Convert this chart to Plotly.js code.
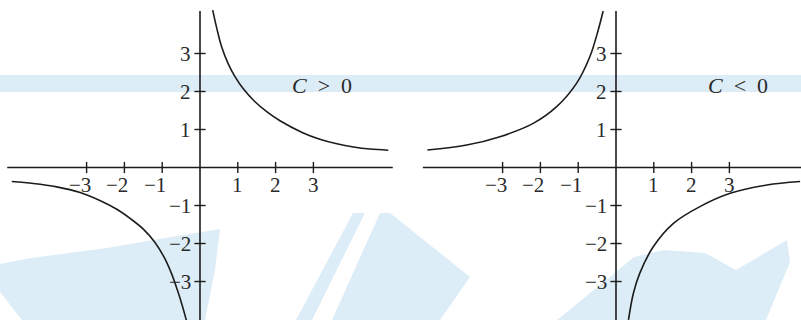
<!DOCTYPE html>
<html>
<head>
<meta charset="utf-8">
<script src="https://cdn.plot.ly/plotly-3.0.1.min.js"></script>
<style>html,body{margin:0;padding:0;background:#fff;}#chart{width:801px;height:320px;}</style>
</head>
<body>
<div id="chart"></div>
<script>
// ---- data ----
const xTicks = [-3, -2, -1, 1, 2, 3];
const yTicks = [-3, -2, -1, 1, 2, 3];
const tickLabels = ['\u22123', '\u22122', '\u22121', '1', '2', '3'];

// left panel, C > 0
const posUpperX = [0.336, 0.44, 0.574, 0.75, 0.926, 1.145, 1.455, 1.765, 2.116, 2.73, 3.17, 3.62, 4.06, 4.50, 4.98];
const posUpperY = [4.14, 3.68, 3.17, 2.72, 2.39, 2.07, 1.73, 1.47, 1.23, 0.91, 0.745, 0.625, 0.54, 0.485, 0.455];
const posLowerX = [-4.98, -4.41, -3.79, -3.17, -2.65, -2.20, -1.85, -1.50, -1.20, -0.95, -0.75, -0.60, -0.48, -0.38, -0.34];
const posLowerY = [-0.37, -0.42, -0.51, -0.66, -0.87, -1.10, -1.34, -1.62, -1.96, -2.36, -2.80, -3.22, -3.60, -3.95, -4.1];

// right panel, C < 0
const negUpperX = [-4.99, -3.95, -3.07, -2.19, -1.57, -1.04, -0.69, -0.47, -0.34];
const negUpperY = [0.46, 0.59, 0.81, 1.16, 1.60, 2.22, 2.92, 3.62, 4.12];
const negLowerX = [0.33, 0.46, 0.63, 0.99, 1.52, 2.22, 3.02, 3.99, 4.87];
const negLowerY = [-4.01, -3.31, -2.78, -2.08, -1.47, -1.03, -0.68, -0.46, -0.37];

const panelLabels = ['<i>C</i>\u2002>\u20020', '<i>C</i>\u2002&lt;\u20020'];
const labelPos = [3.22, 2.15];

// axis extents (in data units)
const leftAxisX = [-5.1, 5.1];
const rightAxisX = [-5.11, 5.0];
const axisY = [-4.2, 4.12];

// ---- styling ----
const ink = '#1c1c1c';
const txt = '#2a2a2a';
const fam = '"Liberation Serif", "Times New Roman", serif';
const tickFont = {family: fam, size: 21, color: txt};
const labelFont = {family: fam, size: 22, color: txt};
const wm = '#ddedf7';

function panel(xa, ya, axX, curves) {
  const tr = [];
  tr.push({x: axX, y: [0, 0], xaxis: xa, yaxis: ya, mode: 'lines', line: {color: ink, width: 1.6}, hoverinfo: 'skip'});
  tr.push({x: [0, 0], y: axisY, xaxis: xa, yaxis: ya, mode: 'lines', line: {color: ink, width: 1.6}, hoverinfo: 'skip'});
  tr.push({x: xTicks, y: xTicks.map(() => 0), xaxis: xa, yaxis: ya, mode: 'markers',
    marker: {symbol: 'line-ns', size: 8, line: {color: ink, width: 1.4}}, hoverinfo: 'skip'});
  tr.push({x: yTicks.map(() => 0), y: yTicks, xaxis: xa, yaxis: ya, mode: 'markers',
    marker: {symbol: 'line-ew', size: 8, line: {color: ink, width: 1.4}}, hoverinfo: 'skip'});
  curves.forEach(c => tr.push({x: c[0], y: c[1], xaxis: xa, yaxis: ya, mode: 'lines',
    line: {color: ink, width: 1.6, shape: 'spline', smoothing: 1}, hoverinfo: 'skip'}));
  return tr;
}

const traces = [].concat(
  panel('x', 'y', leftAxisX, [[posUpperX, posUpperY], [posLowerX, posLowerY]]),
  panel('x2', 'y2', rightAxisX, [[negUpperX, negUpperY], [negLowerX, negLowerY]])
);

function labels(xr, yr, li) {
  const a = [];
  xTicks.forEach((v, i) => a.push({x: v, y: 0, xref: xr, yref: yr, text: tickLabels[i], showarrow: false,
    xanchor: v < 0 ? 'right' : 'center', xshift: v < 0 ? 6 : 0, yanchor: 'top', yshift: -3, font: tickFont}));
  yTicks.forEach((v, i) => a.push({x: 0, y: v, xref: xr, yref: yr, text: tickLabels[i], showarrow: false,
    xanchor: 'right', xshift: -7, yanchor: 'middle', font: tickFont}));
  a.push({x: labelPos[0], y: labelPos[1], xref: xr, yref: yr, text: panelLabels[li], showarrow: false,
    xanchor: 'center', yanchor: 'middle', font: labelFont});
  return a;
}

// background watermark (pixel polygons -> paper coords)
const W = 801, H = 320;
const watermark = [
  [[0,75],[801,75],[801,92],[0,92]],
  [[0,264],[31,258],[107,248],[153,240],[220,229],[215,270],[205,320],[22,320],[0,292]],
  [[296,320],[353,213],[365,213],[312,320]],
  [[332,320],[380,213],[390,213],[470,277],[440,320]],
  [[557,320],[600,285],[634,257],[664,250],[705,253],[736,270],[787,240],[790,262],[766,320]]
];
const shapes = watermark.map(p => ({
  type: 'path', xref: 'paper', yref: 'paper', layer: 'below',
  path: 'M' + p.map(q => (q[0] / W).toFixed(4) + ',' + (1 - q[1] / H).toFixed(4)).join('L') + 'Z',
  fillcolor: wm, line: {width: 0}
}));

const ax = {showgrid: false, zeroline: false, showline: false, showticklabels: false, ticks: '', fixedrange: true};
const layout = {
  width: 801, height: 320,
  margin: {l: 0, r: 0, t: 0, b: 0},
  paper_bgcolor: '#ffffff', plot_bgcolor: 'rgba(0,0,0,0)',
  showlegend: false,
  xaxis: Object.assign({}, ax, {domain: [0, 400 / 801], range: [-200 / 37.8, 200 / 37.8]}),
  yaxis: Object.assign({}, ax, {domain: [0, 1], range: [-4.013, 4.408]}),
  xaxis2: Object.assign({}, ax, {domain: [405 / 801, 1], range: [(405 - 616) / 37.8, (801 - 616) / 37.8]}),
  yaxis2: Object.assign({}, ax, {domain: [0, 1], range: [-4.013, 4.408], anchor: 'x2'}),
  annotations: labels('x', 'y', 0).concat(labels('x2', 'y2', 1)),
  shapes: shapes
};

Plotly.newPlot('chart', traces, layout, {staticPlot: true, displayModeBar: false});
</script>
</body>
</html>
